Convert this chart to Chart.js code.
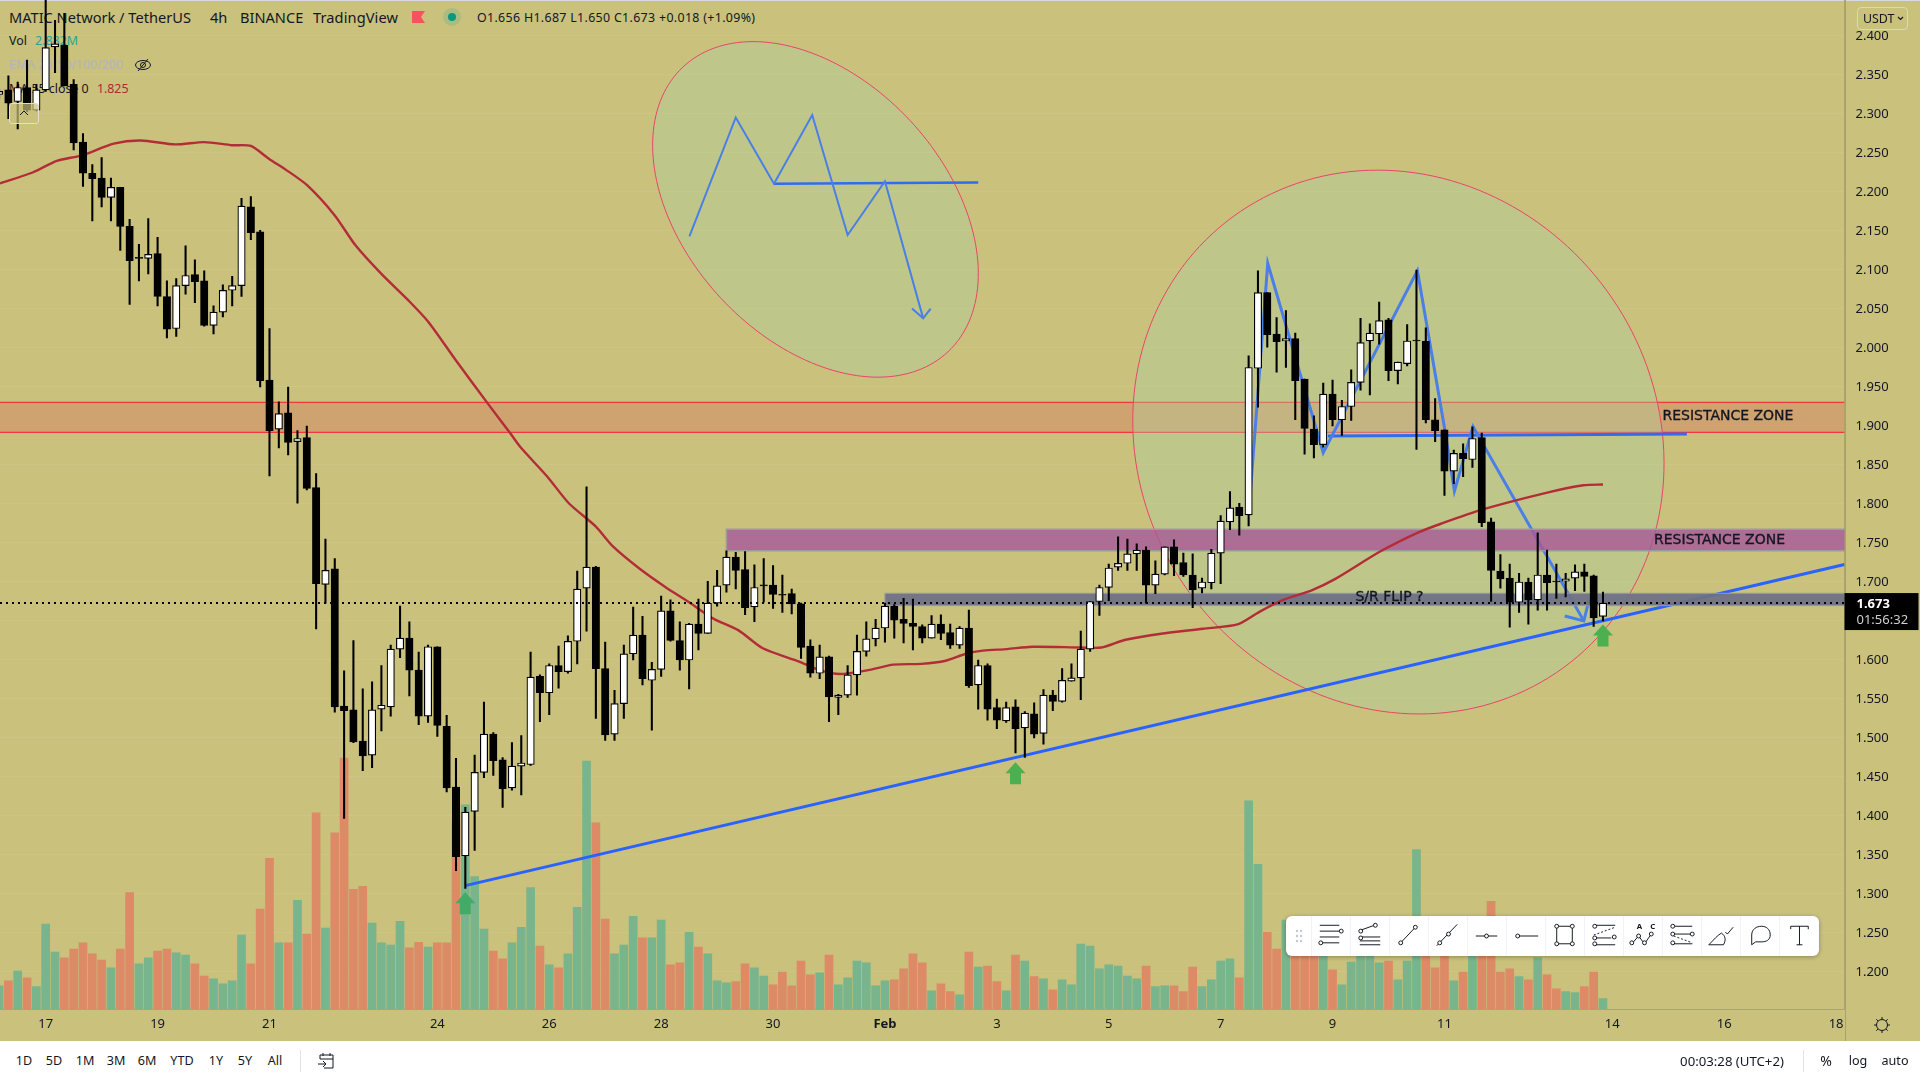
<!DOCTYPE html>
<html>
<head>
<meta charset="utf-8">
<title>MATIC Network / TetherUS</title>
<script src="https://cdn.jsdelivr.net/npm/chart.js@4"></script>
<style>
  html, body { margin: 0; padding: 0; width: 1920px; height: 1080px; overflow: hidden; background: #fff; }
  body { font-family: "Noto Sans", sans-serif; color: #131722; position: relative; }
  #pane { position: absolute; left: 0; top: 0; width: 1920px; height: 1041px; background: #c9c17c; border-top: 1px solid #d6dbe3; box-sizing: border-box; }
  #chart { position: absolute; left: 0; top: 0; z-index: 2; }
  .t { position: absolute; white-space: nowrap; line-height: 16px; z-index: 1; }
  .top { font-size: 14.6px; top: 9px; }
  .small { font-size: 12.4px; }
  .foot { font-size: 12.6px; top: 1053px; transform: translateX(-50%); z-index: 3; }
  #flag { position: absolute; left: 412px; top: 11px; z-index: 1; }
  #dot { position: absolute; left: 443px; top: 8px; width: 18px; height: 18px; border-radius: 9px; background: rgba(38,166,154,.18); z-index: 1; }
  #dot i { position: absolute; left: 5px; top: 5px; width: 8px; height: 8px; border-radius: 4px; background: #089981; }
  #collapse { position: absolute; left: 9px; top: 103px; width: 28px; height: 19px; border: 1px solid #e0e0d0; border-radius: 3px; background: rgba(201,193,124,.7); z-index: 3; }
  #usdt { position: absolute; left: 1857px; top: 7px; width: 49px; height: 21px; border: 1px solid #d8d8c8; border-radius: 4px; font-size: 12.4px; line-height: 21px; padding-left: 5px; box-sizing: content-box; width: 44px; z-index: 3; }
  #usdt svg { position: absolute; left: 39px; top: 8px; }
  #toolbar { position: absolute; left: 1286px; top: 916px; width: 533px; height: 40px; background: #fff; border-radius: 6px; box-shadow: 0 1px 4px rgba(0,0,0,.3); z-index: 3; display: flex; }
  #toolbar .grip { width: 25px; height: 40px; }
  #toolbar svg { width: 39px; height: 40px; border-left: 1px solid #f0f3fa; box-sizing: border-box; }
  .sep { position: absolute; top: 1050px; width: 1px; height: 22px; background: #e0e3eb; }
</style>
</head>
<body>
<div id="pane"></div>

<div class="t top" style="left:9px">MATIC Network / TetherUS</div>
<div class="t top" style="left:210px">4h</div>
<div class="t top" style="left:240px">BINANCE</div>
<div class="t top" style="left:313px;letter-spacing:.1px">TradingView</div>
<svg id="flag" width="13" height="12"><path d="M0 0H13L9 6L13 12H0Z" fill="#f7525f"/></svg>
<div id="dot"><i></i></div>
<div class="t small" style="left:477px;top:10px;letter-spacing:.33px">O1.656 H1.687 L1.650 C1.673 +0.018 (+1.09%)</div>
<div class="t small" style="left:9px;top:33px">Vol <span style="color:#26a69a;margin-left:5px">2.882M</span></div>
<div class="t small" style="left:9px;top:57px;color:#b2b5be">EMA 20/50/100/200</div>
<svg style="position:absolute;left:134px;top:56px;z-index:1" width="18" height="18" fill="none" stroke="#131722"><ellipse cx="9" cy="9" rx="7.5" ry="4.5"/><circle cx="9" cy="9" r="2.5"/><path d="M4 15L14 3"/></svg>
<div class="t small" style="left:9px;top:81px">MA 55 close 0 <span style="color:#b22833;margin-left:5px">1.825</span></div>
<div id="collapse"><svg width="28" height="19" fill="none" stroke="#131722"><path d="M10 11L14 7L18 11"/></svg></div>
<div id="usdt">USDT<svg width="7" height="5" fill="none" stroke="#131722" stroke-width="1.2"><path d="M1 1L3.5 3.5L6 1"/></svg></div>

<canvas id="chart" width="1920" height="1041"></canvas>

<div id="toolbar"><div class="grip"><svg style="border:0;width:25px" viewBox="0 0 25 40" fill="#c4c7d0"><circle cx="11" cy="15" r="1.2"/><circle cx="15" cy="15" r="1.2"/><circle cx="11" cy="20" r="1.2"/><circle cx="15" cy="20" r="1.2"/><circle cx="11" cy="25" r="1.2"/><circle cx="15" cy="25" r="1.2"/></svg></div></div>

<svg style="position:absolute;left:1873px;top:1016px;z-index:3" width="18" height="18" fill="none" stroke="#131722"><circle cx="9" cy="9" r="5.5"/><path d="M9 1V3.5M9 14.5V17M1 9H3.5M14.5 9H17M3.3 3.3L5 5M13 13L14.7 14.7M3.3 14.7L5 13M13 5L14.7 3.3"/></svg>

<div class="t foot" style="left:24px">1D</div>
<div class="t foot" style="left:54px">5D</div>
<div class="t foot" style="left:85px">1M</div>
<div class="t foot" style="left:116px">3M</div>
<div class="t foot" style="left:147px">6M</div>
<div class="t foot" style="left:182px">YTD</div>
<div class="t foot" style="left:216px">1Y</div>
<div class="t foot" style="left:245px">5Y</div>
<div class="t foot" style="left:275px">All</div>
<div class="sep" style="left:300px"></div>
<svg style="position:absolute;left:317px;top:1052px;z-index:3" width="18" height="18" fill="none" stroke="#131722"><path d="M3 7V3H16V16H7M3 7H16M6 1V4M13 1V4M1 12H9M6 9L9 12L6 15"/></svg>
<div class="t foot" style="left:1732px;font-size:13.2px">00:03:28 (UTC+2)</div>
<div class="sep" style="left:1803px"></div>
<div class="t foot" style="left:1826px;font-size:14px">%</div>
<div class="t foot" style="left:1858px">log</div>
<div class="t foot" style="left:1895px">auto</div>

<script>
//****DATA****//

var firstCandle = -5;

var opens = [
  2.325, 2.331, 2.316, 2.334, 2.305, 2.331, 2.386, 2.388, 2.338, 2.264,
  2.224, 2.218, 2.193, 2.206, 2.156, 2.115, 2.115, 2.121, 2.066, 2.025,
  2.080, 2.094, 2.086, 2.029, 2.046, 2.074, 2.080, 2.181, 2.149, 1.959,
  1.896, 1.917, 1.880, 1.885, 1.821, 1.697, 1.717, 1.541, 1.536, 1.496,
  1.478, 1.537, 1.540, 1.614, 1.628, 1.587, 1.528, 1.617, 1.515, 1.437,
  1.349, 1.406, 1.456, 1.505, 1.472, 1.436, 1.464, 1.466, 1.579, 1.558,
  1.593, 1.585, 1.624, 1.692, 1.719, 1.589, 1.505, 1.544, 1.608, 1.632,
  1.574, 1.588, 1.663, 1.625, 1.600, 1.646, 1.634, 1.673, 1.696, 1.732,
  1.716, 1.668, 1.695, 1.696, 1.684, 1.685, 1.672, 1.618, 1.583, 1.604,
  1.552, 1.555, 1.581, 1.611, 1.627, 1.641, 1.669, 1.652, 1.647, 1.643,
  1.628, 1.646, 1.635, 1.619, 1.641, 1.568, 1.593, 1.539, 1.522, 1.540,
  1.513, 1.531, 1.506, 1.555, 1.547, 1.573, 1.577, 1.614, 1.675, 1.693,
  1.719, 1.724, 1.736, 1.741, 1.696, 1.710, 1.745, 1.725, 1.709, 1.692,
  1.699, 1.737, 1.777, 1.796, 1.786, 1.974, 2.071, 2.018, 2.009, 2.012,
  1.960, 1.896, 1.876, 1.941, 1.908, 1.925, 1.956, 2.009, 2.018, 2.036,
  1.971, 1.980, 2.009, 2.009, 1.908, 1.895, 1.842, 1.865, 1.857, 1.885,
  1.777, 1.714, 1.705, 1.674, 1.700, 1.677, 1.709, 1.701, 1.701, 1.705,
  1.713, 1.708, 1.656
];
var highs = [
  2.332, 2.349, 2.341, 2.369, 2.337, 2.460, 2.420, 2.429, 2.344, 2.275,
  2.235, 2.244, 2.218, 2.206, 2.165, 2.133, 2.166, 2.142, 2.086, 2.089,
  2.131, 2.113, 2.099, 2.054, 2.081, 2.092, 2.192, 2.194, 2.151, 2.025,
  1.931, 1.950, 1.894, 1.900, 1.839, 1.755, 1.730, 1.586, 1.625, 1.563,
  1.572, 1.593, 1.619, 1.669, 1.649, 1.610, 1.619, 1.617, 1.529, 1.474,
  1.411, 1.478, 1.546, 1.507, 1.475, 1.494, 1.503, 1.610, 1.581, 1.595,
  1.618, 1.631, 1.714, 1.822, 1.720, 1.623, 1.561, 1.619, 1.668, 1.656,
  1.597, 1.682, 1.677, 1.649, 1.647, 1.678, 1.701, 1.715, 1.740, 1.738,
  1.739, 1.722, 1.730, 1.721, 1.709, 1.691, 1.673, 1.626, 1.619, 1.605,
  1.556, 1.593, 1.632, 1.649, 1.652, 1.673, 1.671, 1.679, 1.678, 1.645,
  1.657, 1.658, 1.646, 1.643, 1.664, 1.600, 1.595, 1.550, 1.546, 1.549,
  1.534, 1.545, 1.562, 1.561, 1.589, 1.595, 1.637, 1.675, 1.696, 1.723,
  1.758, 1.755, 1.749, 1.745, 1.727, 1.745, 1.754, 1.737, 1.736, 1.705,
  1.742, 1.785, 1.816, 1.801, 1.990, 2.099, 2.071, 2.039, 2.048, 2.019,
  1.960, 1.913, 1.955, 1.959, 1.933, 1.972, 2.038, 2.031, 2.059, 2.038,
  1.982, 2.030, 2.100, 2.026, 1.935, 1.895, 1.869, 1.877, 1.899, 1.891,
  1.782, 1.735, 1.723, 1.711, 1.705, 1.763, 1.741, 1.723, 1.711, 1.722,
  1.723, 1.709, 1.687
];
var lows = [
  2.320, 2.294, 2.281, 2.303, 2.304, 2.329, 2.353, 2.336, 2.254, 2.207,
  2.163, 2.181, 2.163, 2.125, 2.056, 2.086, 2.095, 2.054, 2.013, 2.015,
  2.069, 2.058, 2.028, 2.018, 2.040, 2.054, 2.066, 2.139, 1.950, 1.836,
  1.872, 1.863, 1.801, 1.818, 1.640, 1.673, 1.533, 1.397, 1.494, 1.458,
  1.462, 1.509, 1.528, 1.603, 1.554, 1.517, 1.520, 1.502, 1.431, 1.330,
  1.307, 1.356, 1.449, 1.452, 1.411, 1.433, 1.427, 1.465, 1.521, 1.530,
  1.564, 1.583, 1.595, 1.637, 1.525, 1.497, 1.497, 1.525, 1.600, 1.568,
  1.510, 1.579, 1.624, 1.587, 1.563, 1.613, 1.634, 1.669, 1.687, 1.691,
  1.658, 1.649, 1.674, 1.666, 1.661, 1.659, 1.602, 1.578, 1.576, 1.521,
  1.530, 1.552, 1.555, 1.605, 1.618, 1.623, 1.628, 1.622, 1.613, 1.622,
  1.628, 1.626, 1.615, 1.615, 1.565, 1.537, 1.523, 1.512, 1.520, 1.481,
  1.475, 1.500, 1.492, 1.535, 1.546, 1.573, 1.549, 1.611, 1.657, 1.676,
  1.715, 1.715, 1.715, 1.673, 1.685, 1.709, 1.708, 1.707, 1.667, 1.686,
  1.691, 1.698, 1.767, 1.760, 1.772, 1.924, 2.001, 1.969, 1.975, 1.908,
  1.864, 1.859, 1.873, 1.900, 1.888, 1.907, 1.946, 1.940, 2.005, 1.958,
  1.954, 1.977, 1.870, 1.904, 1.880, 1.811, 1.826, 1.835, 1.847, 1.771,
  1.675, 1.692, 1.642, 1.661, 1.646, 1.664, 1.664, 1.679, 1.681, 1.689,
  1.688, 1.643, 1.650
];
var closes = [
  2.329, 2.314, 2.334, 2.305, 2.331, 2.385, 2.390, 2.336, 2.263, 2.224,
  2.217, 2.193, 2.206, 2.156, 2.112, 2.115, 2.120, 2.066, 2.024, 2.080,
  2.093, 2.085, 2.029, 2.046, 2.074, 2.080, 2.182, 2.148, 1.958, 1.894,
  1.916, 1.879, 1.884, 1.820, 1.698, 1.715, 1.540, 1.535, 1.495, 1.477,
  1.536, 1.542, 1.614, 1.628, 1.587, 1.528, 1.617, 1.516, 1.436, 1.348,
  1.405, 1.456, 1.505, 1.471, 1.435, 1.464, 1.468, 1.578, 1.558, 1.593,
  1.585, 1.624, 1.691, 1.719, 1.589, 1.504, 1.544, 1.608, 1.632, 1.576,
  1.588, 1.663, 1.625, 1.600, 1.646, 1.634, 1.673, 1.695, 1.732, 1.715,
  1.667, 1.693, 1.695, 1.684, 1.683, 1.672, 1.616, 1.583, 1.604, 1.553,
  1.555, 1.581, 1.611, 1.627, 1.641, 1.669, 1.651, 1.647, 1.643, 1.628,
  1.646, 1.634, 1.619, 1.641, 1.567, 1.593, 1.537, 1.523, 1.539, 1.512,
  1.532, 1.505, 1.555, 1.547, 1.574, 1.577, 1.614, 1.675, 1.693, 1.718,
  1.724, 1.736, 1.741, 1.696, 1.710, 1.745, 1.723, 1.709, 1.690, 1.700,
  1.737, 1.778, 1.795, 1.785, 1.975, 2.071, 2.017, 2.008, 2.012, 1.958,
  1.897, 1.876, 1.941, 1.908, 1.925, 1.956, 2.007, 2.019, 2.035, 1.971,
  1.982, 2.009, 2.009, 1.908, 1.894, 1.842, 1.865, 1.858, 1.884, 1.776,
  1.715, 1.704, 1.674, 1.700, 1.677, 1.709, 1.699, 1.700, 1.704, 1.713,
  1.707, 1.654, 1.673
];
// volume in millions
var volumes = [
  6.5, 7.9, 10.7, 8.8, 6.3, 23.9, 16.0, 14.4, 16.9, 18.6,
  15.5, 13.8, 11.6, 16.9, 32.8, 12.7, 14.4, 16.3, 16.9, 15.8,
  15.2, 12.7, 9.3, 8.5, 7.1, 7.9, 20.8, 12.7, 28.1, 42.4,
  18.6, 18.6, 30.6, 21.1, 55.2, 22.8, 49.6, 70.6, 33.7, 34.5,
  24.2, 18.6, 18.0, 24.7, 17.2, 18.8, 17.4, 18.6, 18.6, 53.0,
  57.5, 37.3, 22.5, 16.3, 14.1, 18.6, 23.0, 34.2, 17.7, 12.4,
  11.6, 15.5, 28.6, 69.8, 52.4, 25.3, 15.5, 18.0, 26.1, 20.0,
  20.0, 25.0, 12.4, 13.0, 21.6, 17.4, 15.5, 7.9, 7.4, 7.7,
  12.7, 11.6, 9.3, 6.8, 10.4, 6.5, 13.5, 9.6, 10.2, 15.2,
  6.8, 8.8, 13.5, 13.0, 6.5, 7.9, 8.2, 11.3, 15.5, 13.0,
  5.1, 7.1, 4.9, 4.0, 16.0, 11.8, 12.1, 7.7, 5.1, 15.2,
  13.5, 9.1, 8.5, 5.4, 8.2, 6.8, 18.3, 17.7, 11.3, 12.4,
  12.1, 9.3, 8.5, 12.1, 6.3, 6.5, 6.5, 4.9, 11.8, 6.3,
  8.2, 13.5, 14.1, 8.8, 58.6, 40.7, 21.6, 16.9, 25.0, 17.5,
  17.5, 16.6, 20.3, 11.0, 6.8, 13.2, 15.7, 15.7, 13.0, 13.5,
  8.2, 13.5, 44.9, 15.7, 11.6, 15.7, 7.9, 10.4, 17.5, 20.3,
  30.3, 10.4, 11.3, 9.1, 8.2, 14.4, 9.6, 5.7, 4.9, 4.6,
  6.3, 10.4, 2.9
];

var maX = [-4.9, -1.4, 1.2, 3.9, 7.3, 10.2, 13.9, 17, 20, 22, 24, 25.7, 28, 31, 33.2, 36, 38.9, 41, 44, 47.4, 49.8, 50.9, 53.8, 56.1, 59, 60.8, 63.7, 66.4, 69, 71.6, 74.3, 76.9, 80.8, 83, 85.2, 88.2, 90.9, 93.9, 96.5, 98.7, 100.5, 103.1, 105.8, 111, 113.2, 115.8, 119.8, 124.1, 127.9, 130.2, 132.7, 135.7, 138.3, 143.1, 147.1, 149.7, 154.1, 160.8, 164.9, 167];
var maY = [2.211, 2.225, 2.240, 2.247, 2.262, 2.266, 2.261, 2.264, 2.260, 2.259, 2.242, 2.229, 2.209, 2.170, 2.132, 2.095, 2.061, 2.034, 1.984, 1.929, 1.891, 1.873, 1.835, 1.801, 1.771, 1.746, 1.717, 1.694, 1.674, 1.653, 1.638, 1.615, 1.598, 1.587, 1.582, 1.587, 1.594, 1.595, 1.599, 1.608, 1.612, 1.614, 1.617, 1.616, 1.616, 1.626, 1.634, 1.640, 1.646, 1.662, 1.677, 1.689, 1.704, 1.739, 1.763, 1.775, 1.793, 1.814, 1.824, 1.825];

var axisTickCandles = [0, 12, 24, 42, 54, 66, 78, 90, 102, 114, 126, 138, 150, 168, 180, 192];
var axisTickLabels = ['17', '19', '21', '24', '26', '28', '30', 'Feb', '3', '5', '7', '9', '11', '14', '16', '18'];
var priceTicks = [1.2, 1.25, 1.3, 1.35, 1.4, 1.45, 1.5, 1.55, 1.6, 1.65, 1.7, 1.75, 1.8, 1.85, 1.9, 1.95, 2.0, 2.05, 2.1, 2.15, 2.2, 2.25, 2.3, 2.35, 2.4];
var hiddenPriceTick = 1.65;
var lastPrice = 1.673;

//****DRAWINGS, IN CANDLE / PRICE UNITS****//

var trendX = [45, 192.9];
var trendY = [1.3107, 1.7225];
var patternX = [129, 131.05, 137, 147.1, 150.07, 151.07, 153.06, 164.95];
var patternY = [1.7855, 2.1086, 1.8658, 2.0992, 1.8928, 1.8167, 1.8992, 1.65];
var patternArrowX = [162.9, 164.95, 165.5];
var patternArrowY = [1.6564, 1.65, 1.677];
var neckX = [137.5, 176];
var neckY = [1.8872, 1.8897];
var sketchX = [69.03, 74, 78.1, 82.2, 86, 90, 94.1];
var sketchY = [2.1432, 2.2955, 2.2107, 2.2986, 2.1448, 2.2138, 2.038];
var sketchArrowX = [92.9, 94.1, 94.9];
var sketchArrowY = [2.0506, 2.038, 2.0506];
var sketchNeckX = [78.1, 100];
var sketchNeckY = [2.2107, 2.2123];

var orangeZone = [1.8919, 1.9303];
var purpleZoneStart = 73;
var purpleZone = [1.7401, 1.7675];
var greyZoneStart = 90;
var greyZone = [1.6697, 1.6855];

// center, end of first semi axis, end of second semi axis
var ellipseA = [[82.55, 2.1777], [75.86, 2.3928], [98.68, 2.1777]];
var ellipseB = [[145.06, 1.8794], [142.83, 2.228], [173.46, 1.8794]];

var arrowCandles = [45, 104, 167];
var arrowTips = [1.3022, 1.4688, 1.6455];

var noteTexts = ['RESISTANCE ZONE', 'RESISTANCE ZONE', 'S/R FLIP ?'];
var noteX = [180.4, 179.5, 144.1];
var noteY = [1.9124, 1.7538, 1.68];

//****TOOLBAR ICONS****//

var handle = function (x, y) {
  return '<circle cx="' + x + '" cy="' + y + '" r="2" fill="#fff"/>';
};

var toolIcons = [
  '<path d="M8 9H28M8 15H28M8 21H28M8 27H28"/>' + handle(30, 15) + handle(9, 27),
  '<path d="M10 14L24 9M9 21H30M9 25H30M9 29H30"/>' + handle(10, 15) + handle(25, 9) + handle(10, 22),
  '<path d="M10 28L27 10"/>' + handle(11, 27) + handle(26, 11),
  '<path d="M8 30L29 8"/>' + handle(11, 27) + handle(20, 18),
  '<path d="M8 20H30"/>' + handle(19, 20),
  '<path d="M12 20H32"/>' + handle(11, 20),
  '<path d="M11 10H27V28H11Z"/>' + handle(11, 10) + handle(27, 10) + handle(11, 28) + handle(27, 28),
  '<path d="M9 9H31M9 29H31M9 22H27" /><path d="M9 19L31 11" stroke-dasharray="2 2"/>' + handle(10, 10) + handle(30, 21) + handle(10, 22) + handle(10, 28),
  '<path d="M8 28L15 20L21 28L28 18"/>' + handle(8, 27) + handle(15, 20) + handle(21, 27) + handle(28, 18) + '<text x="13" y="13" font-size="8" font-weight="bold" fill="#131722" stroke="none">A</text><text x="27" y="13" font-size="8" font-weight="bold" fill="#131722" stroke="none">C</text>',
  '<path d="M9 10H30M9 18H30M9 28H30"/><path d="M11 20L30 27" stroke-dasharray="2 2"/>' + handle(10, 10) + handle(10, 18) + handle(30, 18) + handle(10, 27),
  '<path d="M7 29H22C25 24 24 20 20 17C16 19 12 24 7 29ZM24 16L26 18L32 11"/>',
  '<path d="M11 29V19C11 13 16 10 21 10C26 10 30 13 30 19C30 24 26 26 21 26H15Z"/>',
  '<path d="M11 10H29M20 10V29M11 10V13M29 10V13M17 29H23"/>'
];

var toolbar = document.getElementById('toolbar');
for (var i = 0; i < toolIcons.length; i++) {
  toolbar.insertAdjacentHTML('beforeend', '<svg viewBox="0 0 39 40" fill="none" stroke="#131722" stroke-width="1">' + toolIcons[i] + '</svg>');
}

//****DATASET HELPERS****//

function candlePoints(fn) {
  var points = [];
  for (var c = 0; c < opens.length; c++) {
    points.push({x: c + firstCandle, y: fn(c)});
  }
  return points;
}

function linePoints(xs, ys) {
  return xs.map(function (x, n) {
    return {x: x, y: ys[n]};
  });
}

function lineSet(xs, ys, color, width, order) {
  return {
    type: 'line',
    data: linePoints(xs, ys),
    borderColor: color,
    borderWidth: width,
    pointRadius: 0,
    fill: false,
    order: order
  };
}

//****DRAWING PLUGIN****//

function fillZone(chart, startCandle, bounds, fill, edge, edgeWidth, edgesOnly) {
  var ctx = chart.ctx;
  var area = chart.chartArea;
  var left = startCandle === null ? area.left : chart.scales.x.getPixelForValue(startCandle);
  var top = chart.scales.y.getPixelForValue(bounds[1]);
  var bottom = chart.scales.y.getPixelForValue(bounds[0]);
  ctx.save();
  ctx.fillStyle = fill;
  ctx.fillRect(left, top, area.right - left, bottom - top);
  ctx.strokeStyle = edge;
  ctx.lineWidth = edgeWidth;
  ctx.beginPath();
  ctx.moveTo(area.right, top);
  ctx.lineTo(left, top);
  if (edgesOnly) {
    ctx.moveTo(left, bottom);
  } else {
    ctx.lineTo(left, bottom);
  }
  ctx.lineTo(area.right, bottom);
  ctx.stroke();
  ctx.restore();
}

function drawEllipse(chart, e) {
  var ctx = chart.ctx;
  var sx = chart.scales.x;
  var sy = chart.scales.y;
  var cx = sx.getPixelForValue(e[0][0]);
  var cy = sy.getPixelForValue(e[0][1]);
  var ux = sx.getPixelForValue(e[1][0]) - cx;
  var uy = sy.getPixelForValue(e[1][1]) - cy;
  var vx = sx.getPixelForValue(e[2][0]) - cx;
  var vy = sy.getPixelForValue(e[2][1]) - cy;
  ctx.beginPath();
  for (var t = 0; t <= 180; t++) {
    var a = t / 180 * Math.PI * 2;
    ctx.lineTo(cx + ux * Math.cos(a) + vx * Math.sin(a), cy + uy * Math.cos(a) + vy * Math.sin(a));
  }
  ctx.closePath();
  ctx.fillStyle = 'rgba(178,205,158,0.4)';
  ctx.fill();
  ctx.strokeStyle = '#e8446a';
  ctx.lineWidth = 1;
  ctx.stroke();
}

var drawings = {
  id: 'drawings',
  beforeDatasetsDraw: function (chart) {
    var ctx = chart.ctx;
    var area = chart.chartArea;
    ctx.save();
    ctx.beginPath();
    ctx.rect(area.left, area.top, area.width, area.height);
    ctx.clip();
    fillZone(chart, null, orangeZone, 'rgba(208,151,108,0.72)', '#f23645', 1.2, true);
    drawEllipse(chart, ellipseA);
    drawEllipse(chart, ellipseB);
    ctx.restore();
  },
  beforeDatasetDraw: function (chart, args) {
    // the two upper zones cover the blue lines but stay below the MA and candles
    if (chart.data.datasets[args.index].label === 'MA') {
      fillZone(chart, purpleZoneStart, purpleZone, 'rgba(168,87,154,0.8)', '#9c9a9c', 1.5);
      fillZone(chart, greyZoneStart, greyZone, 'rgba(109,112,133,0.92)', '#989a98', 1);
    }
  },
  afterDatasetsDraw: function (chart) {
    var ctx = chart.ctx;
    var sx = chart.scales.x;
    var sy = chart.scales.y;
    ctx.save();
    arrowCandles.forEach(function (candle, n) {
      var x = sx.getPixelForValue(candle);
      var y = sy.getPixelForValue(arrowTips[n]);
      ctx.beginPath();
      ctx.moveTo(x, y);
      ctx.lineTo(x + 10, y + 11);
      ctx.lineTo(x + 5.5, y + 11);
      ctx.lineTo(x + 5.5, y + 22);
      ctx.lineTo(x - 5.5, y + 22);
      ctx.lineTo(x - 5.5, y + 11);
      ctx.lineTo(x - 10, y + 11);
      ctx.closePath();
      ctx.fillStyle = n === 0 ? 'rgba(60,170,100,0.9)' : '#4caf50';
      ctx.fill();
    });
    ctx.fillStyle = '#131722';
    ctx.strokeStyle = '#131722';
    ctx.lineWidth = 0.35;
    ctx.font = '14px "DejaVu Sans"';
    ctx.textAlign = 'center';
    ctx.textBaseline = 'middle';
    noteTexts.forEach(function (text, n) {
      ctx.fillText(text, sx.getPixelForValue(noteX[n]), sy.getPixelForValue(noteY[n]));
      ctx.strokeText(text, sx.getPixelForValue(noteX[n]), sy.getPixelForValue(noteY[n]));
    });
    ctx.restore();
  },
  afterDraw: function (chart) {
    var ctx = chart.ctx;
    var area = chart.chartArea;
    var y = chart.scales.y.getPixelForValue(lastPrice);
    ctx.save();
    ctx.strokeStyle = '#a8a366';
    ctx.beginPath();
    ctx.moveTo(Math.round(area.right) + 0.5, 0);
    ctx.lineTo(Math.round(area.right) + 0.5, chart.height);
    ctx.stroke();
    ctx.fillStyle = '#000';
    ctx.fillRect(area.right, y - 10, 74, 37);
    ctx.textAlign = 'left';
    ctx.textBaseline = 'middle';
    ctx.fillStyle = '#fff';
    ctx.font = 'bold 13px "Noto Sans"';
    ctx.fillText(lastPrice.toFixed(3), area.right + 12, y + 1);
    ctx.fillStyle = '#cfcfcf';
    ctx.font = '13px "Noto Sans"';
    ctx.fillText('01:56:32', area.right + 12, y + 17);
    ctx.restore();
  }
};

//****CHART****//

var upGreen = '#78b48c';
var downOrange = '#dd8a66';

var datasets = [
  {
    type: 'bar',
    data: candlePoints(function (c) { return volumes[c]; }),
    yAxisID: 'yVolume',
    grouped: false,
    barThickness: 8,
    backgroundColor: closes.map(function (close, c) { return close >= opens[c] ? upGreen : downOrange; }),
    order: 60
  },
  lineSet(trendX, trendY, '#2962ff', 3, 50),
  lineSet(patternX, patternY, '#4a7fe8', 3, 45),
  lineSet(patternArrowX, patternArrowY, '#4a7fe8', 3, 45),
  lineSet(neckX, neckY, '#2f6cf0', 3, 45),
  lineSet(sketchX, sketchY, '#4a7fe8', 2, 45),
  lineSet(sketchArrowX, sketchArrowY, '#4a7fe8', 2, 45),
  lineSet(sketchNeckX, sketchNeckY, '#2f6cf0', 2.5, 45),
  {
    type: 'line',
    label: 'MA',
    data: linePoints(maX, maY),
    borderColor: '#b32d38',
    borderWidth: 2.4,
    tension: 0.25,
    pointRadius: 0,
    fill: false,
    order: 40
  },
  {
    type: 'bar',
    data: candlePoints(function (c) { return [lows[c], highs[c]]; }),
    grouped: false,
    barThickness: 1.4,
    backgroundColor: '#000',
    order: 30
  },
  {
    type: 'bar',
    data: candlePoints(function (c) { return [opens[c], closes[c]]; }),
    grouped: false,
    barThickness: 7.4,
    minBarLength: 1,
    borderWidth: 1.2,
    borderSkipped: false,
    borderColor: '#000',
    backgroundColor: closes.map(function (close, c) { return close > opens[c] ? '#fff' : '#000'; }),
    order: 20
  },
  {
    type: 'line',
    data: linePoints([-4.9, 192.9], [lastPrice, lastPrice]),
    borderColor: '#000',
    borderWidth: 2,
    borderDash: [2, 4],
    pointRadius: 0,
    fill: false,
    order: 1
  }
];

var canvas = document.getElementById('chart');
var chart = new Chart(canvas.getContext('2d'), {
  type: 'bar',
  data: {datasets: datasets},
  plugins: [drawings],
  options: {
    responsive: false,
    animation: false,
    devicePixelRatio: 1,
    events: [],
    layout: {padding: 0},
    plugins: {legend: {display: false}, tooltip: {enabled: false}},
    scales: {
      x: {
        type: 'linear',
        offset: false,
        min: -4.9,
        max: 192.9,
        afterBuildTicks: function (axis) {
          axis.ticks = axisTickCandles.map(function (v) { return {value: v}; });
        },
        afterFit: function (axis) {
          axis.height = 32;
          axis.paddingLeft = axis.paddingRight = 0;
        },
        grid: {display: false, drawTicks: false},
        border: {color: '#aaa56a'},
        ticks: {
          autoSkip: false,
          maxRotation: 0,
          padding: 7,
          color: '#131722',
          font: function (ctx) {
            return {family: '"Noto Sans"', size: 13, weight: ctx.index === 7 ? 'bold' : 'normal'};
          },
          callback: function (value) { return axisTickLabels[axisTickCandles.indexOf(value)]; }
        }
      },
      y: {
        position: 'right',
        min: 1.15256,
        max: 2.44615,
        afterBuildTicks: function (axis) {
          axis.ticks = priceTicks.map(function (v) { return {value: v}; });
        },
        afterFit: function (axis) {
          axis.width = 75.5;
          axis.paddingTop = axis.paddingBottom = 0;
        },
        grid: {color: 'rgba(255,255,255,0.07)', drawTicks: false},
        border: {color: '#aaa56a'},
        ticks: {
          autoSkip: false,
          padding: 11,
          color: '#131722',
          font: {family: '"Noto Sans"', size: 13},
          callback: function (value) { return value === hiddenPriceTick ? '' : value.toFixed(3); }
        }
      },
      yVolume: {
        display: false,
        min: 0,
        max: 284
      }
    }
  }
});
</script>
</body>
</html>
